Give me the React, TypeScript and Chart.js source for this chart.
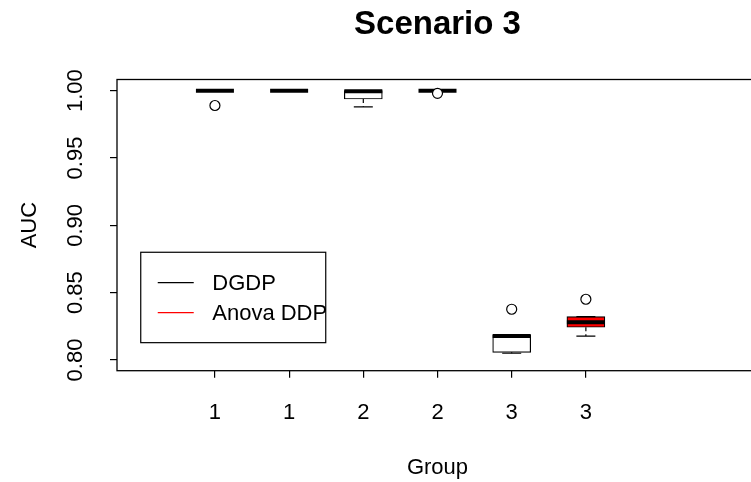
import React, { useEffect, useRef } from "react";
import { Chart, registerables } from "chart.js";

Chart.register(...registerables);

// ---- data ----
const positions = [1, 2, 3, 4, 5, 6];
const groupLabels = ["1", "1", "2", "2", "3", "3"];
const medians = [1.0, 1.0, 0.9995, 1.0, 0.8178, 0.828];
const q1 = [1.0, 1.0, 0.9938, 1.0, 0.8057, 0.8243];
const q3 = [1.0, 1.0, 1.0, 1.0, 0.8186, 0.8322];
const whiskerLow = [1.0, 1.0, 0.988, 1.0, 0.805, 0.8178];
const whiskerHigh = [1.0, 1.0, 1.0, 1.0, 0.8186, 0.8322];
const boxFills = ["#ffffff", "#ffffff", "#ffffff", "#ffffff", "#ffffff", "#ff0000"];
const outlierX = [1, 4, 5, 6];
const outlierY = [0.989, 0.998, 0.8377, 0.8451];
const yTicks = [0.8, 0.85, 0.9, 0.95, 1.0];
const legendLabels = ["DGDP", "Anova DDP"];
const legendColors = ["#000000", "#ff0000"];
const legendAnchor = { x: 0, y: 0.88 };
const titleText = "Scenario 3";
const xTitle = "Group";
const yTitle = "AUC";

const FONT = "'Liberation Sans', Arial, Helvetica, sans-serif";
const FS = 22;

const frameAndLegend = {
  id: "frameAndLegend",
  afterDraw(chart: any) {
    const { ctx, chartArea } = chart;
    const xs = chart.scales.x;
    const ys = chart.scales.y;
    ctx.save();
    ctx.strokeStyle = "#000";
    ctx.lineWidth = 1.3;
    ctx.strokeRect(chartArea.left, chartArea.top, chartArea.right - chartArea.left, chartArea.bottom - chartArea.top);
    // legend
    const lx = xs.getPixelForValue(legendAnchor.x);
    const ly = ys.getPixelForValue(legendAnchor.y);
    const w = 185;
    const h = 90.4;
    ctx.lineWidth = 1.2;
    ctx.strokeRect(lx, ly, w, h);
    ctx.font = `${FS}px ${FONT}`;
    ctx.textBaseline = "middle";
    ctx.textAlign = "left";
    legendLabels.forEach((lab, i) => {
      const yy = ly + 30.4 + i * 30;
      ctx.strokeStyle = legendColors[i];
      ctx.beginPath();
      ctx.moveTo(lx + 17, yy);
      ctx.lineTo(lx + 53, yy);
      ctx.stroke();
      ctx.fillStyle = "#000";
      ctx.fillText(lab, lx + 71.5, yy + 1.5);
    });
    ctx.restore();
  },
};

export default function App() {
  const ref = useRef<HTMLCanvasElement | null>(null);
  useEffect(() => {
    document.body.style.margin = "0";
    Chart.defaults.font.family = FONT;
    Chart.defaults.font.size = FS;
    Chart.defaults.color = "#000";

    const whiskerData: any[] = [];
    positions.forEach((x, i) => {
      if (whiskerLow[i] < q1[i]) {
        whiskerData.push({ x, y: q1[i] }, { x, y: whiskerLow[i] }, { x, y: null });
      }
      if (whiskerHigh[i] > q3[i]) {
        whiskerData.push({ x, y: q3[i] }, { x, y: whiskerHigh[i] }, { x, y: null });
      }
    });
    const stapleData: any[] = [];
    positions.forEach((x, i) => {
      stapleData.push({ x, y: whiskerLow[i] }, { x, y: whiskerHigh[i] });
    });

    const chart = new Chart(ref.current as HTMLCanvasElement, {
      type: "bar",
      data: {
        datasets: [
          {
            type: "bar",
            label: "boxes",
            data: positions.map((x, i) => ({ x, y: [q1[i], q3[i]] })) as any,
            backgroundColor: boxFills,
            borderColor: "#000",
            borderWidth: 1.2,
            borderSkipped: false,
            barThickness: 38,
            order: 5,
          } as any,
          {
            type: "line",
            label: "whiskers",
            data: whiskerData,
            borderColor: "#000",
            borderWidth: 1.2,
            borderDash: [4, 3],
            pointRadius: 0,
            spanGaps: false,
            order: 4,
          } as any,
          {
            type: "scatter",
            label: "staples",
            data: stapleData,
            pointStyle: "line",
            pointRadius: 9.5,
            borderColor: "#000",
            borderWidth: 1.2,
            order: 3,
          } as any,
          {
            type: "scatter",
            label: "medians",
            data: positions.map((x, i) => ({ x, y: medians[i] })),
            pointStyle: "line",
            pointRadius: 19,
            borderColor: "#000",
            borderWidth: 4,
            order: 2,
          } as any,
          {
            type: "scatter",
            label: "outliers",
            data: outlierX.map((x, i) => ({ x, y: outlierY[i] })),
            pointStyle: "circle",
            pointRadius: 5,
            backgroundColor: "#fff",
            borderColor: "#000",
            borderWidth: 1.2,
            order: 1,
          } as any,
        ],
      },
      options: {
        animation: false,
        responsive: false,
        maintainAspectRatio: false,
        layout: { padding: 0 },
        plugins: {
          legend: { display: false },
          tooltip: { enabled: false },
          title: {
            display: true,
            text: titleText,
            font: { size: 33, weight: "bold", family: FONT },
            color: "#000",
            padding: { top: 4.7, bottom: 35.2 },
          },
        },
        scales: {
          x: {
            type: "linear",
            min: -0.32,
            max: 8.32,
            offset: false,
            grid: { display: true, drawOnChartArea: false, drawTicks: true, tickLength: 7, color: "#000", lineWidth: 1.2, offset: false },
            border: { display: false },
            afterBuildTicks: (s: any) => {
              s.ticks = positions.map((v) => ({ value: v }));
            },
            afterFit: (s: any) => {
              s.height = 111.3;
            },
            ticks: {
              autoSkip: false,
              maxRotation: 0,
              minRotation: 0,
              padding: 21.6,
              color: "#000",
              font: { size: FS },
              callback: (_v: any, idx: number) => groupLabels[idx],
            },
            title: { display: true, text: xTitle, color: "#000", font: { size: FS }, padding: { top: 0, bottom: 1.3 } },
          },
          y: {
            type: "linear",
            position: "left",
            min: 0.79205,
            max: 1.0083,
            beginAtZero: false,
            grid: { display: true, drawOnChartArea: false, drawTicks: true, tickLength: 7, color: "#000", lineWidth: 1.2 },
            border: { display: false },
            afterBuildTicks: (s: any) => {
              s.ticks = yTicks.map((v) => ({ value: v }));
            },
            afterFit: (s: any) => {
              s.width = 117;
            },
            ticks: {
              minRotation: 90,
              maxRotation: 90,
              crossAlign: "center",
              padding: 13.1,
              color: "#000",
              font: { size: FS },
              callback: (v: any) => Number(v).toFixed(2),
            },
            title: { display: true, text: yTitle, color: "#000", font: { size: FS }, padding: { top: 16.8, bottom: 0 } },
          },
          y2: {
            type: "linear",
            position: "right",
            display: true,
            grid: { display: false },
            border: { display: false },
            ticks: { display: false },
            afterFit: (s: any) => {
              s.width = 117;
            },
          },
        },
      } as any,
      plugins: [frameAndLegend],
    });
    return () => chart.destroy();
  }, []);

  return (
    <div style={{ width: 751, height: 482, overflow: "hidden", position: "relative" }}>
      <canvas ref={ref} width={875} height={482} style={{ width: 875, height: 482, display: "block" }} />
    </div>
  );
}
